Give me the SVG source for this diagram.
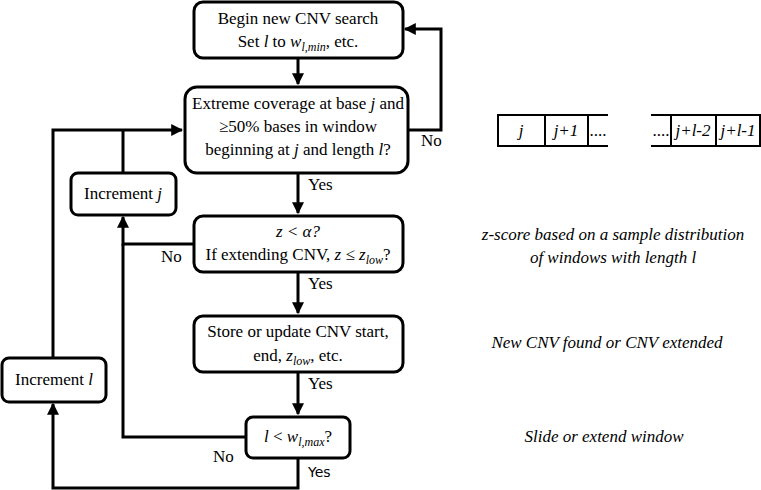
<svg xmlns="http://www.w3.org/2000/svg" width="761" height="490" viewBox="0 0 761 490" font-family="'Liberation Serif','Times New Roman','DejaVu Serif',serif" font-size="17">
<style>
.b{fill:#fff;stroke:#000;stroke-width:3}
.l{fill:none;stroke:#000;stroke-width:3}
.c{fill:none;stroke:#000;stroke-width:2}
text{font-family:'Liberation Serif','Times New Roman','DejaVu Serif',serif;font-size:17px;fill:#000}
.m{text-anchor:middle}
.i{font-style:italic}
</style>
<defs><marker id="a" viewBox="0 0 10 10" refX="9" refY="5" markerWidth="4" markerHeight="4" orient="auto" markerUnits="strokeWidth"><path d="M0,0L10,5L0,10z"/></marker></defs>
<g id="connectors">
<path class="l" d="M298,58V84" marker-end="url(#a)"/>
<path class="l" d="M298,173V213" marker-end="url(#a)"/>
<path class="l" d="M298,272V313" marker-end="url(#a)"/>
<path class="l" d="M298,372V414" marker-end="url(#a)"/>
<path class="l" d="M408,130H441V29H405" marker-end="url(#a)"/>
<path class="l" d="M298,458V488H53V404" marker-end="url(#a)"/>
<path class="l" d="M53,358V130H182" marker-end="url(#a)"/>
<path class="l" d="M123,172V130"/>
<path class="l" d="M194,244H123V217" marker-end="url(#a)"/>
<path class="l" d="M245,437H123V244"/>
<text x="308" y="190">Yes</text>
<text x="308" y="289">Yes</text>
<text x="308" y="389">Yes</text>
<text x="308" y="477" style="font-family:'DejaVu Sans',sans-serif;font-size:14px">Yes</text>
<text x="161" y="262">No</text>
<text x="421" y="146">No</text>
<text x="213" y="462">No</text>
</g>
<g id="n1"><rect class="b" x="194" y="2" width="209" height="56" rx="9"/>
<text class="m" x="298" y="24">Begin new CNV search</text>
<text class="m" x="298" y="47">Set <tspan class="i">l</tspan> to <tspan class="i">w<tspan font-size="12" dy="4">l,min</tspan></tspan><tspan dy="-4">, etc.</tspan></text></g>
<g id="n2"><rect class="b" x="185" y="87" width="223" height="86" rx="12"/>
<text class="m" x="298" y="109">Extreme coverage at base <tspan class="i">j</tspan> and</text>
<text class="m" x="298" y="132">≥50% bases in window</text>
<text class="m" x="298" y="155">beginning at <tspan class="i">j</tspan> and length <tspan class="i">l</tspan>?</text></g>
<g id="n3"><rect class="b" x="71" y="173" width="105" height="42" rx="7"/>
<text class="m" x="123" y="199">Increment <tspan class="i">j</tspan></text></g>
<g id="n4"><rect class="b" x="194" y="216" width="209" height="56" rx="9"/>
<text class="m i" x="298" y="237">z &lt; α?</text>
<text class="m" x="298" y="260">If extending CNV, <tspan class="i">z</tspan> ≤ <tspan class="i">z<tspan font-size="12" dy="4">low</tspan></tspan><tspan dy="-4">?</tspan></text></g>
<g id="n5"><rect class="b" x="194" y="316" width="209" height="56" rx="9"/>
<text class="m" x="298" y="337">Store or update CNV start,</text>
<text class="m" x="298" y="361">end, <tspan class="i">z<tspan font-size="12" dy="4">low</tspan></tspan><tspan dy="-4">, etc.</tspan></text></g>
<g id="n6"><rect class="b" x="246" y="417" width="104" height="41" rx="7"/>
<text class="m" x="298" y="442"><tspan class="i">l</tspan> &lt; <tspan class="i">w<tspan font-size="12" dy="4">l,max</tspan></tspan><tspan dy="-4">?</tspan></text></g>
<g id="n7"><rect class="b" x="2" y="358" width="104" height="44" rx="7"/>
<text class="m" x="54" y="385">Increment <tspan class="i">l</tspan></text></g>
<g id="window">
<path class="c" d="M608,115H498V146H608M545,115V146M588,115V146"/>
<path class="c" d="M651,115H760V146H651M671,115V146M716,115V146"/>
<text class="m i" x="521" y="136">j</text>
<text class="m i" x="566" y="136">j+1</text>
<text class="m" x="598" y="136" font-size="13">....</text>
<text class="m" x="661" y="136" font-size="13">....</text>
<text class="m i" x="693" y="136">j+l-2</text>
<text class="m i" x="738" y="136">j+l-1</text>
</g>
<g id="notes">
<text class="m i" x="613" y="240">z-score based on a sample distribution</text>
<text class="m i" x="613" y="263">of windows with length l</text>
<text class="m i" x="607" y="348">New CNV found or CNV extended</text>
<text class="m i" x="604" y="442">Slide or extend window</text>
</g>
</svg>
